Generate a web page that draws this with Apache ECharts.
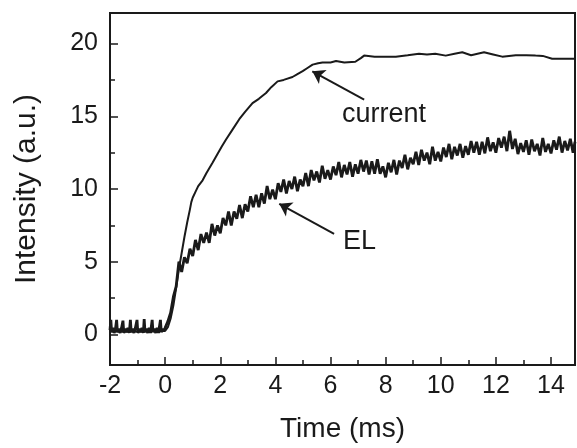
<!DOCTYPE html>
<html>
<head>
<meta charset="utf-8">
<script src="https://cdn.jsdelivr.net/npm/echarts@6/dist/echarts.min.js"></script>
<style>
html,body{margin:0;padding:0;background:#fff;}
#chart{width:577px;height:448px;}
</style>
</head>
<body>
<div id="chart"></div>
<script>
// ---- data ----
var xMajorTicks = [-2, 0, 2, 4, 6, 8, 10, 12, 14];
var xMinorTicks = [-1, 1, 3, 5, 7, 9, 11, 13];
var yMajorTicks = [0, 5, 10, 15, 20];
var yMinorTicks = [2.5, 7.5, 12.5, 17.5];

var currentData = [
  [-2,0.2],[-1,0.2],[0,0.25],[0.1,0.5],[0.2,1.1],[0.3,2.0],[0.4,3.2],[0.5,4.5],
  [0.6,5.6],[0.7,6.7],[0.8,7.7],[0.9,8.6],[0.95,9.1],[1.0,9.4],[1.1,9.8],[1.2,10.2],
  [1.36,10.6],[1.5,11.1],[1.72,11.8],[1.9,12.4],[2.05,12.9],[2.21,13.4],[2.45,14.1],
  [2.69,14.8],[2.9,15.3],[3.17,15.9],[3.4,16.2],[3.66,16.6],[3.85,17.0],[4.08,17.4],
  [4.3,17.5],[4.62,17.7],[4.8,17.9],[4.99,18.1],[5.15,18.3],[5.35,18.55],[5.55,18.65],
  [5.71,18.7],[6.0,18.7],[6.2,18.8],[6.5,18.7],[6.9,18.75],[7.1,19.0],[7.22,19.17],
  [7.6,19.1],[8.0,19.1],[8.37,19.1],[8.8,19.2],[9.21,19.3],[9.5,19.25],[9.8,19.3],
  [10.18,19.17],[10.5,19.3],[10.78,19.4],[11.1,19.2],[11.57,19.4],[11.9,19.25],
  [12.23,19.1],[12.72,19.2],[13.1,19.2],[13.44,19.17],[13.7,19.15],[14.04,18.96],
  [14.5,18.96],[14.87,18.96]
];

var elBaseline = [
  [-2,0.3],[-1.97,1.0],[-1.94,0.15],[-1.9,0.45],[-1.85,0.1],[-1.8,0.4],[-1.76,1.0],
  [-1.73,0.15],[-1.68,0.4],[-1.63,0.1],[-1.58,0.45],[-1.53,0.95],[-1.5,0.1],[-1.45,0.4],
  [-1.4,0.15],[-1.35,0.45],[-1.3,0.1],[-1.26,1.0],[-1.23,0.15],[-1.18,0.4],[-1.13,0.1],
  [-1.08,0.45],[-1.02,1.0],[-0.99,0.1],[-0.94,0.4],[-0.89,0.15],[-0.84,0.45],[-0.79,0.1],
  [-0.76,1.05],[-0.73,0.15],[-0.68,0.4],[-0.63,0.1],[-0.58,0.45],[-0.53,0.1],[-0.47,1.0],
  [-0.44,0.15],[-0.39,0.4],[-0.34,0.1],[-0.29,0.45],[-0.24,0.1],[-0.17,1.0],[-0.14,0.15],
  [-0.09,0.4],[-0.05,0.2]
];

var elRise = [
  [0.0,0.45],[0.1,0.9],[0.2,1.5],[0.3,2.6],[0.4,3.3],[0.5,5.0],[0.6,4.3],[0.7,5.3],[0.8,4.9],[0.9,5.9],
  [1.0,5.4],[1.1,6.5],[1.2,5.8],[1.3,6.9],[1.4,6.3],[1.5,7.0],[1.6,6.3],[1.7,7.6],[1.8,6.8],[1.9,7.5],
  [2.0,6.95],[2.1,8.0],[2.2,7.5],[2.3,8.45],[2.4,7.5],[2.5,8.45],[2.6,7.95],[2.7,8.9],[2.8,8.0],[2.9,8.95],
  [3.0,8.45],[3.1,9.5],[3.2,8.75],[3.3,9.6],[3.4,8.75],[3.5,9.7],[3.6,9.0],[3.7,10.2],[3.8,9.3],[3.9,9.95],
  [4.0,9.3],[4.1,10.4],[4.2,9.8],[4.3,10.65],[4.4,9.7],[4.5,10.55],[4.6,10.0],[4.7,10.85],[4.8,9.85],[4.9,10.65],
  [5.0,10.2],[5.1,11.1],[5.2,10.2],[5.3,11.3],[5.4,10.6],[5.5,11.2],[5.6,10.45],[5.7,11.6],[5.8,10.7],[5.9,11.3],
  [6.0,10.65],[6.1,11.55],[6.2,10.95],[6.3,11.85],[6.4,10.8],[6.5,11.65],[6.6,11.0],[6.7,11.85],[6.8,10.85],[6.9,11.7],
  [7.0,11.05],[7.1,12.0],[7.2,11.2],[7.3,11.95],[7.4,11.0],[7.5,11.9],[7.6,11.05],[7.7,12.05],[7.8,11.05],[7.9,11.55],
  [8.0,10.8],[8.1,11.8],[8.2,11.15],[8.3,12.0],[8.4,11.0],[8.5,11.95],[8.6,11.45],[8.7,12.35],[8.8,11.35],[8.9,12.15],
  [9.0,11.7],[9.1,12.55],[9.2,11.65],[9.3,12.7],[9.4,11.95],[9.5,12.5],[9.6,11.7],[9.7,12.9],[9.8,11.95],[9.9,12.55],
  [10.0,11.9],[10.1,12.85],[10.2,12.2],[10.3,13.1],[10.4,12.05],[10.5,12.9],[10.6,12.3],[10.7,13.1],[10.8,12.15],[10.9,12.95],
  [11.0,12.35],[11.1,13.3],[11.2,12.5],[11.3,13.25],[11.4,12.35],[11.5,13.25],[11.6,12.45],[11.7,13.55],[11.8,12.6],[11.9,13.2],
  [12.0,12.5],[12.1,13.5],[12.2,12.85],[12.3,13.6],[12.4,12.6],[12.5,14.0],[12.6,12.75],[12.7,13.45],[12.8,12.4],[12.9,13.15],
  [13.0,12.55],[13.1,13.35],[13.2,12.35],[13.3,13.4],[13.4,12.6],[13.5,13.1],[13.6,12.3],[13.7,13.5],[13.8,12.55],[13.9,13.1],
  [14.0,12.45],[14.1,13.35],[14.2,12.7],[14.3,13.6],[14.4,12.5],[14.5,13.3],[14.6,12.65],[14.7,13.45],[14.8,12.5],[14.87,13.25]
];

var currentArrow = [[7.22, 16.14], [5.34, 18.09]];
var elArrow = [[6.13, 6.92], [4.14, 8.98]];
var currentLabelPos = [7.94, 15.15];
var elLabelPos = [7.05, 6.4];

// ---- chart ----
var FONT = "'Liberation Sans', Arial, sans-serif";
var INK = '#1a1a1a';
var chart = echarts.init(document.getElementById('chart'), null, {renderer: 'canvas'});

function axisBase() {
  return {
    type: 'value',
    splitLine: {show: false},
    axisLine: {show: true, onZero: false, lineStyle: {color: INK, width: 2}},
    axisTick: {show: true, inside: true, length: 8, lineStyle: {color: INK, width: 1.5}},
    axisLabel: {color: INK, fontSize: 25, fontFamily: FONT}
  };
}

var xMain = axisBase();
xMain.min = -2; xMain.max = 14.87; xMain.position = 'bottom';
xMain.axisTick.customValues = xMajorTicks;
xMain.axisLabel.customValues = xMajorTicks;
xMain.axisLabel.margin = 9;
xMain.name = 'Time (ms)';
xMain.nameLocation = 'middle';
xMain.nameGap = 50;
xMain.nameTextStyle = {color: INK, fontSize: 28, fontFamily: FONT};

var xMinor = axisBase();
xMinor.min = -2; xMinor.max = 14.87; xMinor.position = 'bottom';
xMinor.axisLine.show = false;
xMinor.axisTick.length = 5;
xMinor.axisTick.customValues = xMinorTicks;
xMinor.axisLabel = {show: false};

var yMain = axisBase();
yMain.min = -2.1; yMain.max = 22.1; yMain.position = 'left';
yMain.axisTick.customValues = yMajorTicks;
yMain.axisLabel.customValues = yMajorTicks;
yMain.axisLabel.margin = 12;
yMain.name = 'Intensity (a.u.)';
yMain.nameLocation = 'middle';
yMain.nameGap = 68;
yMain.nameTextStyle = {color: INK, fontSize: 30, fontFamily: FONT};

var yMinor = axisBase();
yMinor.min = -2.1; yMinor.max = 22.1; yMinor.position = 'left';
yMinor.axisLine.show = false;
yMinor.axisTick.length = 5;
yMinor.axisTick.customValues = yMinorTicks;
yMinor.axisLabel = {show: false};

var lineLabel = function (txt) {
  return {show: true, position: 'inside', formatter: txt, color: INK, fontSize: 27, fontFamily: FONT};
};

chart.setOption({
  animation: false,
  backgroundColor: '#fff',
  grid: {left: 110, right: 2, top: 13, bottom: 83, show: true, borderColor: INK, borderWidth: 2, backgroundColor: 'transparent'},
  xAxis: [xMain, xMinor],
  yAxis: [yMain, yMinor],
  series: [
    {
      name: 'current', type: 'line', xAxisIndex: 0, yAxisIndex: 0,
      data: currentData, showSymbol: false, symbol: 'none',
      lineStyle: {color: INK, width: 2}, z: 3,
      markLine: {
        silent: true, symbol: ['none', 'arrow'], symbolSize: 12,
        label: {show: false}, lineStyle: {color: INK, width: 2, type: 'solid'},
        itemStyle: {color: INK},
        data: [
          [{coord: currentArrow[0]}, {coord: currentArrow[1]}],
          [{coord: elArrow[0]}, {coord: elArrow[1]}]
        ]
      },
      markPoint: {
        silent: true, symbol: 'circle', symbolSize: 0,
        data: [
          {coord: currentLabelPos, label: lineLabel('current')},
          {coord: elLabelPos, label: lineLabel('EL')}
        ]
      }
    },
    {
      name: 'EL', type: 'line', xAxisIndex: 0, yAxisIndex: 0,
      data: elBaseline.concat(elRise), showSymbol: false, symbol: 'none',
      lineStyle: {color: INK, width: 2.8}, z: 2
    }
  ]
});
</script>
</body>
</html>
